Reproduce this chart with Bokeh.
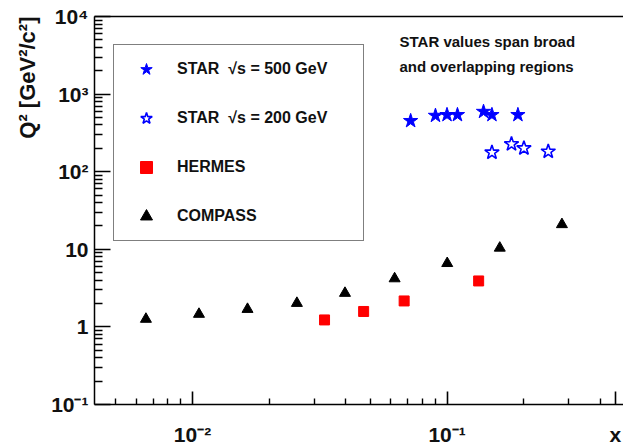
from bokeh.plotting import figure
from bokeh.models import Legend, LegendItem, FixedTicker, LogAxis, Title, Label, Range1d
from bokeh.embed import file_html
from bokeh.resources import INLINE

# ---- data ----
star500_x = [0.0719, 0.0900, 0.0999, 0.1098, 0.139, 0.150, 0.1897]
star500_q2 = [452, 528, 540, 540, 594, 540, 540]

star200_x = [0.150, 0.179, 0.2003, 0.2496]
star200_q2 = [177, 227, 201, 182]

hermes_x = [0.0330, 0.0470, 0.0678, 0.133]
hermes_q2 = [1.23, 1.58, 2.16, 3.91]

compass_x = [0.00656, 0.0106, 0.01644, 0.0257, 0.0397, 0.0622, 0.1001, 0.161, 0.2825]
compass_q2 = [1.26, 1.46, 1.69, 2.02, 2.72, 4.19, 6.59, 10.4, 20.9]

series_labels = ["STAR  \u221as = 500 GeV", "STAR  \u221as = 200 GeV", "HERMES", "COMPASS"]

x_major_ticks = [0.01, 0.1]
x_tick_labels = ["10\u207b\u00b2", "10\u207b\u00b9"]
x_minor_ticks = [0.005, 0.006, 0.007, 0.008, 0.009,
                 0.02, 0.03, 0.04, 0.05, 0.06, 0.07, 0.08, 0.09,
                 0.2, 0.3, 0.4]
y_major_ticks = [0.1, 1, 10, 100, 1000, 10000]
y_tick_labels = ["10\u207b\u00b9", "1", "10", "10\u00b2", "10\u00b3", "10\u2074"]
y_minor_ticks = [m * 10.0 ** k for k in range(-1, 4) for m in range(2, 10)]

x_title = "x"
y_title = "Q\u00b2 [GeV\u00b2/c\u00b2]"
note_lines = ["STAR values span broad", "and overlapping regions"]

X_START, X_END = 0.00412, 0.493
X_TITLE_POS = 0.4575   # axis position where the ROOT-style "x" title sits (right end, tick-label row)
FONT = "Liberation Sans"

p = figure(width=623, height=448, x_axis_type="log", y_axis_type="log",
           x_range=Range1d(X_START, X_END), y_range=Range1d(0.1, 1e4),
           output_backend="svg", toolbar_location=None,
           min_border_left=94, min_border_right=0, min_border_top=16, min_border_bottom=42)
p.background_fill_color = "white"
p.border_fill_color = "white"
p.outline_line_color = None
p.grid.visible = False

xa = p.xaxis[0]
xa.ticker = FixedTicker(ticks=x_major_ticks + [X_TITLE_POS], minor_ticks=x_minor_ticks)
x_over = dict(zip(x_major_ticks, x_tick_labels))
x_over[X_TITLE_POS] = x_title
xa.major_label_overrides = x_over
ya = p.yaxis[0]
ya.ticker = FixedTicker(ticks=y_major_ticks, minor_ticks=y_minor_ticks)
ya.major_label_overrides = dict(zip(y_major_ticks, y_tick_labels))

for ax in (xa, ya):
    ax.axis_line_width = 1.5
    ax.axis_line_color = "black"
    ax.major_tick_line_width = 1.6
    ax.minor_tick_line_width = 1.4
    ax.major_tick_line_color = "black"
    ax.minor_tick_line_color = "black"
    ax.major_tick_out = 0
    ax.minor_tick_out = 0
    ax.major_label_text_font = FONT
    ax.major_label_text_font_size = "21px"
    ax.major_label_text_font_style = "bold"
    ax.major_label_text_color = "#111111"

xa.major_tick_in = 13
xa.minor_tick_in = 6
xa.major_label_standoff = 18
ya.major_tick_in = 16
ya.minor_tick_in = 8
ya.major_label_standoff = 6

top = LogAxis(ticker=FixedTicker(ticks=[]), major_label_standoff=0,
              major_tick_in=0, major_tick_out=0, minor_tick_in=0, minor_tick_out=0,
              axis_line_width=1.5, axis_line_color="black")
p.add_layout(top, "above")

p.add_layout(Title(text=y_title, align="right", text_font=FONT, text_font_size="22px",
                   text_font_style="bold", text_color="#111111", standoff=17), "left")

r1 = p.scatter(star500_x, star500_q2, marker="star", size=15, fill_color="blue", line_color="blue")
r2 = p.scatter(star200_x, star200_q2, marker="star", size=15, fill_color=None,
               line_color="blue", line_width=1.6)
r3 = p.scatter(hermes_x, hermes_q2, marker="square", size=10, fill_color="red", line_color="red")
r4 = p.scatter(compass_x, compass_q2, marker="triangle", size=11, fill_color="black", line_color="black")

legend = Legend(items=[LegendItem(label=lab, renderers=[r]) for lab, r in zip(series_labels, [r1, r2, r3, r4])],
                location=(19, 163), glyph_width=46, glyph_height=30, label_height=30,
                spacing=19, padding=9, label_standoff=8, label_width=177, margin=0,
                border_line_color="black", border_line_width=1.5, background_fill_alpha=1.0,
                label_text_font=FONT, label_text_font_size="16px", label_text_font_style="bold",
                label_text_color="#111111")
p.add_layout(legend)

p.add_layout(Label(x=305, y=363, x_units="screen", y_units="screen", text=note_lines[0],
                   text_font=FONT, text_font_size="15px", text_font_style="bold",
                   text_baseline="middle", text_color="#111111"))
p.add_layout(Label(x=305, y=338, x_units="screen", y_units="screen", text=note_lines[1],
                   text_font=FONT, text_font_size="15px", text_font_style="bold",
                   text_baseline="middle", text_color="#111111"))

open("out.html", "w").write(file_html(p, INLINE))
